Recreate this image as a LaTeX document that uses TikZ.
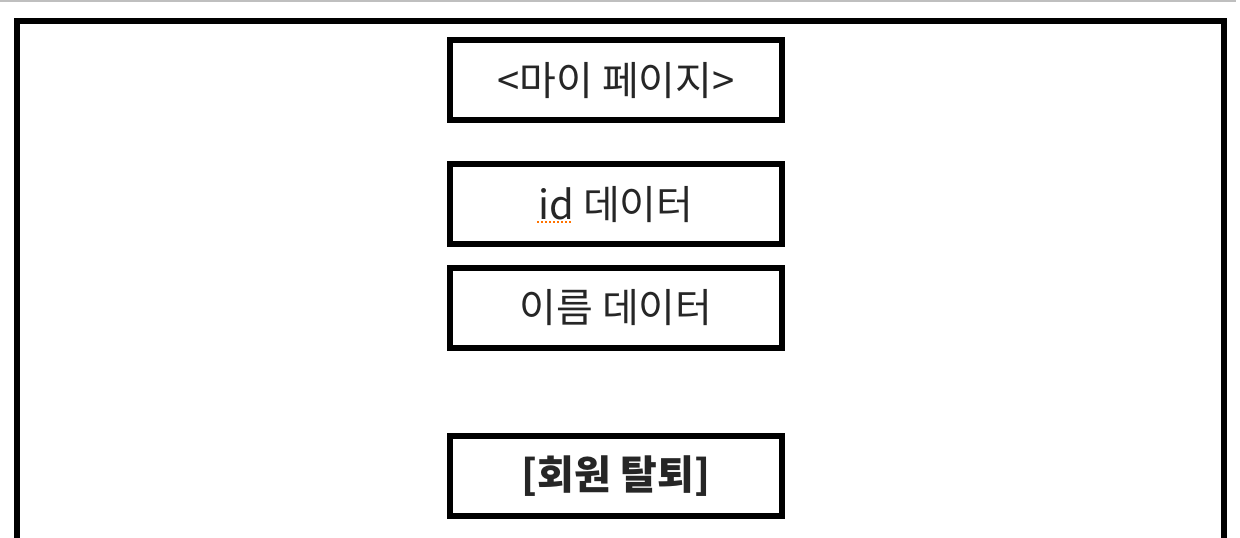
\documentclass[tikz,border=0pt]{standalone}
\usepackage{fontspec}
\setmainfont{Noto Sans CJK KR}
\begin{document}
\begin{tikzpicture}[x=1pt,y=-1pt,
  box/.style={draw=black,line width=6pt,minimum width=332.3pt,minimum height=80pt,inner sep=0pt,text=black!85,font=\fontsize{40}{46}\selectfont},
  frame/.style={draw=black,line width=6pt}]
\useasboundingbox (0,0) rectangle (1240,538);
\draw[gray!50,line width=1.5pt] (0,0.75) -- (1236,0.75);
\draw[frame] (17,20.5) rectangle (1224,560);
\node[box] (mypage) at (616,80.3) {\raisebox{-5pt}{<마이 페이지>}};
\node[box] (iddata) at (616,204.2) {id 데이터};
\node[box] (namedata) at (616,308) {이름 데이터};
\node[box,font=\fontsize{40}{46}\selectfont\bfseries] (withdraw) at (616,476.3) {[회원 탈퇴]};
\coordinate (ul1) at (537,222);
\coordinate (ul2) at (572,222);
\draw[orange!90!red,line width=2pt,dash pattern=on 2pt off 2pt] (ul1) -- (ul2);
\end{tikzpicture}
\end{document}
